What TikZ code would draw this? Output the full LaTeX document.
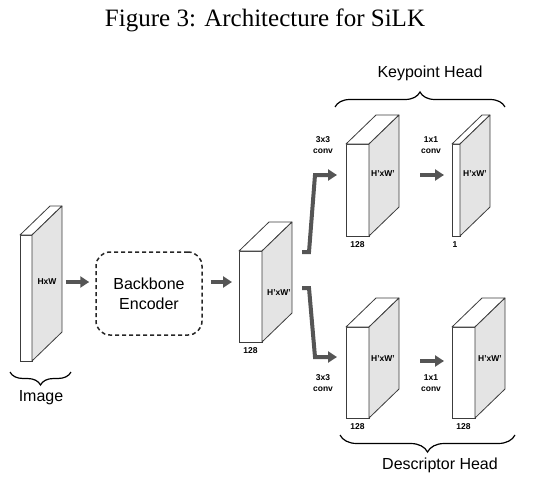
\documentclass[tikz,border=0pt]{standalone}
\usepackage{fontspec}
\setmainfont{Liberation Serif}
\setsansfont{Liberation Sans}
\usetikzlibrary{positioning,calc,arrows.meta,decorations.pathreplacing}
\definecolor{facegray}{RGB}{228,228,228}
\definecolor{edgegray}{RGB}{60,60,60}
\definecolor{arrowgray}{RGB}{85,85,85}
\tikzset{every picture/.style={line width=0.75pt}}
\tikzset{
  front/.style={draw=edgegray,fill=white,line width=0.8pt,inner sep=0pt,outer sep=0pt},
  face/.style={draw=edgegray,fill=white,line width=0.8pt,line join=round},
  side/.style={face,fill=facegray},
  fat/.style={draw=arrowgray,line width=4pt,-{Triangle[length=9pt,width=11pt]}},
  lbl/.style={font=\sffamily\bfseries\fontsize{8.5}{10.5}\selectfont,inner sep=1pt,align=center},
  head/.style={font=\sffamily\fontsize{16}{20}\selectfont,inner sep=1pt,align=center},
  brc/.style={decorate,decoration={brace,amplitude=#1},line width=1.2pt}
}
% top and side faces of a feature map
\newcommand{\slab}[1]{%
  \draw[face] (#1.north west) -- ++(30,-29) -- ($(#1.north east)+(30,-29)$) -- (#1.north east) -- cycle;
  \draw[side] (#1.north east) -- ++(30,-29) -- ($(#1.south east)+(30,-29)$) -- (#1.south east) -- cycle;}

\begin{document}
\begin{tikzpicture}[x=1pt,y=1pt,yscale=-1]
\useasboundingbox (0,0) rectangle (537,492);
% Title
\node[anchor=base,font=\fontsize{25}{30}\selectfont] (title) at (265,27) {Figure 3: Architecture for SiLK};

% Feature maps
\node[front,minimum width=12pt,minimum height=126pt] (img) at (26,298) {};
\node[front,minimum width=23pt,minimum height=91pt] (mid) at (250.5,296.5) {};
\node[front,minimum width=23pt,minimum height=92pt] (kp1) at (357.5,190) {};
\node[front,minimum width=8pt,minimum height=92pt] (kp2) at (456,190) {};
\node[front,minimum width=23pt,minimum height=91pt] (ds1) at (357.5,372.5) {};
\node[front,minimum width=23pt,minimum height=91pt] (ds2) at (463.5,372.5) {};
\foreach \b in {img,mid,kp1,kp2,ds1,ds2}{\slab{\b}}

% Backbone
\node[head,draw=black!85,line width=1.5pt,dash pattern=on 4pt off 3pt,rounded corners=14pt,
      minimum width=106pt,minimum height=83pt] (bb) at (149,293.5) {Backbone\\Encoder};

% Text Node
\node[lbl] (imgl) at (47,282) {HxW};
\node[lbl] (midl) at (279,293) {H'xW'};
\node[lbl] (kp1l) at (383,174) {H'xW'};
\node[lbl] (kp2l) at (475,174) {H'xW'};
\node[lbl] (ds1l) at (383,359) {H'xW'};
\node[lbl] (ds2l) at (490,359) {H'xW'};
\node[lbl,anchor=north] (midc) at ($(mid.south)+(0,4)$) {128};
\node[lbl,anchor=north] (kp1c) at ($(kp1.south)+(0,4)$) {128};
\node[lbl,anchor=north] (kp2c) at ($(kp2.south)+(-1,4)$) {1};
\node[lbl,anchor=north] (ds1c) at ($(ds1.south)+(0,4)$) {128};
\node[lbl,anchor=north] (ds2c) at ($(ds2.south)+(0,4)$) {128};
\node[lbl] (kpc1) at (323,145) {3x3\\conv};
\node[lbl] (kpc2) at (431,145) {1x1\\conv};
\node[lbl] (dsc1) at (323,383) {3x3\\conv};
\node[lbl] (dsc2) at (431,383) {1x1\\conv};

% Arrows
\draw[fat] ($(imgl.east)+(8,0)$) -- ($(bb.west|-imgl.east)+(-6,0)$);
\draw[fat] ($(bb.east|-imgl.east)+(8,0)$) -- ($(mid.west|-imgl.east)+(-7,0)$);
\draw[fat] ($(mid.north east)+(40,1)$) -- ++(7,0) -- ++(6,-77) -- ($(kp1.west)+(-9,-15)$);
\draw[fat] ($(mid.east)+(40,-8.5)$) -- ++(7,0) -- ++(6,69) -- ($(ds1.west)+(-9,-15.5)$);
\draw[fat] ($(kp1.east)+(51,-15)$) -- ($(kp2.west)+(-8,-15)$);
\draw[fat] ($(ds1.east)+(51,-11.5)$) -- ($(ds2.west)+(-8,-11.5)$);

% Braces
\draw[brc=13pt] (71,372) -- (10,372);
\draw[brc=15pt] (335,107) -- (505,107);
\draw[brc=17pt] (515,435) -- (340,435);
\node[head] (imgh) at (41,398) {Image};
\node[head] (kph) at (430,73) {Keypoint Head};
\node[head] (dsh) at (440,465) {Descriptor Head};
\end{tikzpicture}
\end{document}
